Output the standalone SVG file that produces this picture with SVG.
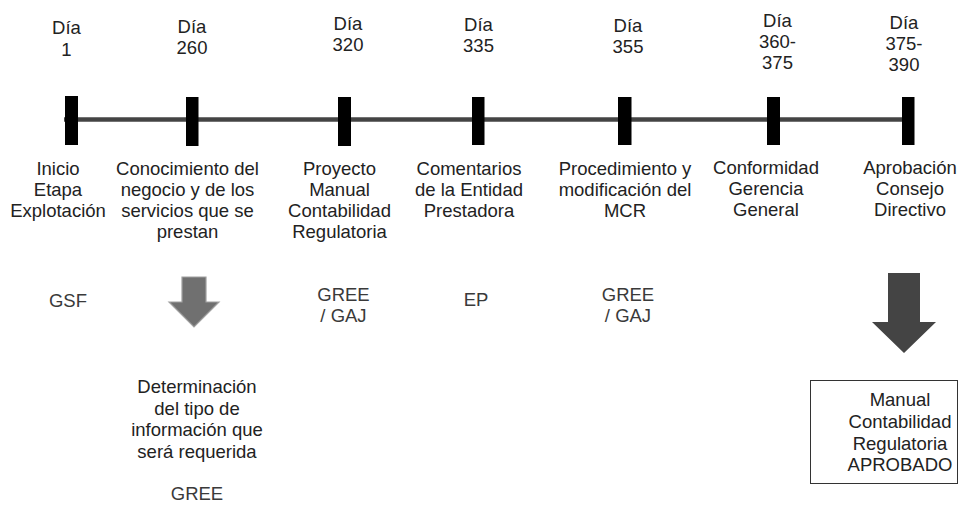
<svg xmlns="http://www.w3.org/2000/svg" width="959" height="506" viewBox="0 0 959 506">
<style>
text{font-family:"Liberation Sans",Arial,sans-serif;font-size:18.5px;fill:#222;text-anchor:middle}
.r{fill:#3a3a3a}
.tick{fill:#000}
</style>
<rect width="959" height="506" fill="#fff"/>
<g id="connectors">
<line x1="64" y1="119.5" x2="903" y2="119.5" stroke="#444" stroke-width="4.5"/>
<polygon points="182,277 206,277 206,302 219,302 194,327 169,302 182,302" fill="#707070" stroke="#a0a0a0" stroke-width="1.2"/>
<polygon points="888,273 920,273 920,322 936,322 904,353 872,322 888,322" fill="#444"/>
</g>
<g id="n1">
<rect class="tick" x="65" y="96" width="13" height="49"/>
<text x="66.5" y="34">Día</text><text x="66.5" y="56">1</text>
<text x="58" y="175">Inicio</text><text x="58" y="196">Etapa</text><text x="58" y="217">Explotación</text>
<text class="r" x="68" y="307">GSF</text>
</g>
<g id="n2">
<rect class="tick" x="186" y="97" width="12.5" height="49"/>
<text x="192" y="33">Día</text><text x="192" y="54">260</text>
<text x="187.5" y="175">Conocimiento del</text><text x="187.5" y="196">negocio y de los</text><text x="187.5" y="217">servicios que se</text><text x="187.5" y="238">prestan</text>
</g>
<g id="n2b">
<text x="197" y="393">Determinación</text><text x="197" y="415">del tipo de</text><text x="197" y="436">información que</text><text x="197" y="458">será requerida</text>
<text class="r" x="197" y="500">GREE</text>
</g>
<g id="n3">
<rect class="tick" x="338" y="97" width="13" height="49"/>
<text x="348" y="30">Día</text><text x="348" y="51">320</text>
<text x="339.5" y="175">Proyecto</text><text x="339.5" y="196">Manual</text><text x="339.5" y="217">Contabilidad</text><text x="339.5" y="238">Regulatoria</text>
<text class="r" x="343.5" y="301">GREE</text><text class="r" x="343.5" y="322">/ GAJ</text>
</g>
<g id="n4">
<rect class="tick" x="472" y="97" width="12.5" height="48"/>
<text x="478.5" y="31">Día</text><text x="478.5" y="52">335</text>
<text x="469" y="175">Comentarios</text><text x="469" y="196">de la Entidad</text><text x="469" y="217">Prestadora</text>
<text class="r" x="476" y="306">EP</text>
</g>
<g id="n5">
<rect class="tick" x="618" y="97" width="13.5" height="48"/>
<text x="628" y="32">Día</text><text x="628" y="53">355</text>
<text x="625" y="175">Procedimiento y</text><text x="625" y="196">modificación del</text><text x="625" y="217">MCR</text>
<text class="r" x="628" y="301">GREE</text><text class="r" x="628" y="322">/ GAJ</text>
</g>
<g id="n6">
<rect class="tick" x="767" y="97" width="13" height="48"/>
<text x="777.5" y="27">Día</text><text x="777.5" y="48">360-</text><text x="777.5" y="69">375</text>
<text x="766" y="174">Conformidad</text><text x="766" y="195">Gerencia</text><text x="766" y="216">General</text>
</g>
<g id="n7">
<rect class="tick" x="902" y="97" width="12.5" height="48"/>
<text x="904" y="29">Día</text><text x="904" y="50">375-</text><text x="904" y="71">390</text>
<text x="910" y="174">Aprobación</text><text x="910" y="195">Consejo</text><text x="910" y="216">Directivo</text>
</g>
<g id="n8">
<rect x="810.5" y="380.5" width="147" height="103" fill="#fff" stroke="#333" stroke-width="1"/>
<text x="900" y="406">Manual</text><text x="900" y="428">Contabilidad</text><text x="900" y="450">Regulatoria</text><text x="900" y="471">APROBADO</text>
</g>
</svg>
